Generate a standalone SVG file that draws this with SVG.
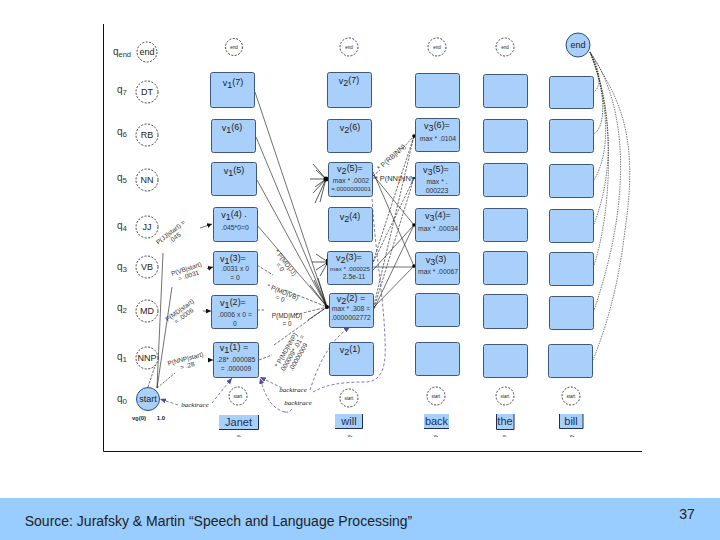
<svg xmlns="http://www.w3.org/2000/svg" width="720" height="540" viewBox="0 0 720 540">
<defs>
<style>
text{font-family:"Liberation Sans",Arial,sans-serif;fill:#222;text-anchor:middle}
.b{fill:#a8d0fb;stroke:#3f5877;stroke-width:1}
.c{fill:#fff;stroke:#111;stroke-width:.8;stroke-dasharray:2 1.5}
.s{fill:#a8d0fb;stroke:#2c4d78;stroke-width:1}
.w{fill:#a8d0fb;stroke:none}
.wl{stroke:#1c3050;stroke-width:1;fill:none}
.q{font-size:10px;fill:#333}
.n{font-size:9px}
.t{font-size:4.5px}
.v{font-size:9px;fill:#222}
.m{font-size:6.800px;fill:#333}
.l{font-size:6.500px;fill:#333}
.word{font-size:11px;fill:#1c3050}
.sm{font-size:4px}
.bt{font-size:7px;font-family:"Liberation Serif",serif;font-style:italic}
.k{fill:none;stroke:#111;stroke-width:.6}
.d{fill:none;stroke:#111;stroke-width:.6;stroke-dasharray:2.500 1.200}
.r{fill:none;stroke:#111;stroke-width:.6;stroke-dasharray:3 1.500}
.h{fill:none;stroke:#111;stroke-width:.7}
.e{fill:none;stroke:#222;stroke-width:.6;stroke-dasharray:1.500 1}
.p{fill:none;stroke:#5a5aa8;stroke-width:.8;stroke-dasharray:3 2}
</style>
<marker id="a" markerWidth="6" markerHeight="6" refX="5" refY="2.500" orient="auto" markerUnits="userSpaceOnUse"><path d="M0 0L5 2.500L0 5z" fill="#111"/></marker>
<marker id="pa" markerWidth="7" markerHeight="6" refX="6" refY="2.500" orient="auto" markerUnits="userSpaceOnUse"><path d="M0 0L6 2.500L0 5z" fill="#4a4aa8"/></marker>
</defs>
<rect width="720" height="540" fill="#fff"/>
<rect y="498" width="720" height="42" fill="#99ccff"/>
<path d="M103.500 24V451.500H642" fill="none" stroke="#111" stroke-width="1"/>
<text x="218.500" y="526" font-size="14" fill="#15203c">Source: Jurafsky &amp; Martin “Speech and Language Processing”</text>
<text x="687" y="519" font-size="14" fill="#15203c">37</text>

<g id="connectors">
<path class="k" d="M255 92L327 307M256 137L327 307M257 180L327 307M257 225L327 307"/>
<path class="r" d="M257 265L273 275M285 290L327 307M259 360L272 355M274 345L327 307M257 310H264M295 315L327 307"/>
<path class="k" d="M308 320L327 307"/>
<path class="h" d="M313 164L326 179M316 170L326 179M310 179H326M315 187L326 179M313 193L326 179M315 203L326 179M320 202L326 179"/>
<path class="h" d="M312 262H328M316 254L328 262M316 270L328 262M320 276L328 262"/>
<path class="h" d="M310 285L327 307M314 280L327 307M318 278L327 307"/>
<path class="d" d="M373 176L380 170M403 148L414 136M373 262L414 136M374 305L414 136M372 265L414 178M374 308L414 178"/>
<path class="k" d="M373 175L414 225M373 172L414 266M373 270L414 225M374 307L414 266M374 309L414 225"/>
<path class="d" d="M373 178H376M411 178H414"/>
<path class="k" d="M372 267H414"/>
<path class="k" marker-end="url(#a)" d="M200 228L212 224"/>
<path class="k" marker-end="url(#a)" d="M207 268.500L213 267"/>
<path class="k" marker-end="url(#a)" d="M203 311H211"/>
<path class="k" marker-end="url(#a)" d="M208 360H213"/>
<path class="k" d="M157 388L163 253M157 388L172 287"/>
<path class="d" d="M148 387L158 357M157 388L175 373"/>
<path class="e" d="M590 52C603 75 600 90 593 92M590 52C608 95 605 130 593 134M590 52C608 100 612 150 594 180M590 52C612 105 615 170 594 224M590 52C616 110 612 210 594 265M590 52C628 105 632 200 594 310M590 52C617 97 640 130 625 230C618 290 605 330 593 360"/>
<path class="p" marker-end="url(#pa)" d="M178 405L160 399"/>
<path class="p" marker-end="url(#pa)" d="M212 403L232 378"/>
<path class="p" marker-end="url(#pa)" d="M282 388L260 377"/>
<path class="p" marker-end="url(#pa)" d="M285 412C270 408 265 395 260 378"/>
<path class="p" d="M313 392C325 385 340 382 365 382C385 382 386 360 385 340C384 300 375 250 372 197"/>
<path class="p" marker-end="url(#pa)" d="M310 390C318 365 330 340 350 327"/>
<path class="p" d="M285 412C292 413 290 409 293 408"/>
<circle cx="326" cy="179" r="2.500" fill="#000"/><rect x="326" y="259" width="3" height="6" fill="#000"/><circle cx="327" cy="307" r="2" fill="#000"/><circle cx="414" cy="136" r="1.800" fill="#000"/><circle cx="414" cy="178" r="1" fill="#000"/><circle cx="414" cy="225" r="1.800" fill="#000"/><circle cx="414" cy="266" r="1.800" fill="#000"/>
</g>

<g id="labels">
<text class="q" x="122" y="55">q<tspan font-size="7.500" dy="2">end</tspan></text>
<text class="q" x="122" y="93">q<tspan font-size="8" dy="2">7</tspan></text>
<text class="q" x="122" y="135">q<tspan font-size="8" dy="2">6</tspan></text>
<text class="q" x="122" y="181">q<tspan font-size="8" dy="2">5</tspan></text>
<text class="q" x="122" y="229">q<tspan font-size="8" dy="2">4</tspan></text>
<text class="q" x="122" y="270">q<tspan font-size="8" dy="2">3</tspan></text>
<text class="q" x="122" y="311">q<tspan font-size="8" dy="2">2</tspan></text>
<text class="q" x="122" y="360">q<tspan font-size="8" dy="2">1</tspan></text>
<text class="q" x="122" y="402">q<tspan font-size="8" dy="2">0</tspan></text>
<text x="139" y="420" font-size="6" font-weight="bold" fill="#333">v<tspan dy="1">0</tspan><tspan dy="-1">(0)</tspan></text>
<text x="161" y="420" font-size="6" font-weight="bold" fill="#333">1.0</text>
<text class="l" transform="translate(172 234) rotate(-38)">P(JJ|start) =<tspan x="0" dy="7">.045</tspan></text>
<text class="l" transform="translate(187 271) rotate(-18)">P(VB|start)<tspan x="0" dy="7">= .0031</tspan></text>
<text class="l" transform="translate(181 312) rotate(-36)">P(MD|start)<tspan x="0" dy="7">= .0006</tspan></text>
<text class="l" transform="translate(186 361) rotate(-15)">P(NNP|start)<tspan x="0" dy="7">= .28</tspan></text>
<text class="bt" x="195" y="407">backtrace</text>
<text class="l" transform="translate(284 264) rotate(52)">* P(MD|JJ)<tspan x="0" dy="7">= 0</tspan></text>
<text class="l" transform="translate(282 294) rotate(22)">* P(MD|VB)<tspan x="0" dy="7">= 0</tspan></text>
<text class="l" x="287" y="318">P(MD|MD)<tspan x="287" dy="8">= 0</tspan></text>
<text class="l" transform="translate(288 351) rotate(-60)">* P(MD|NNP)<tspan x="0" dy="7">.000009* .01 =</tspan><tspan x="0" dy="7">.00000009</tspan></text>
<text class="bt" x="293" y="392">backtrace</text>
<text class="bt" x="298" y="405">backtrace</text>
<text class="l" style="font-size:7px" transform="translate(393 159) rotate(-42)">* P(RB|NN)</text>
<text class="l" style="font-size:7.500px" x="394" y="181">* P(NN|NN)</text>
</g>

<g id="end0"><circle class="c" cx="147" cy="52" r="10"/><text class="n" x="147" y="55">end</text></g>
<g id="dt"><circle class="c" cx="147" cy="92" r="11"/><text class="n" x="147" y="95">DT</text></g>
<g id="rb"><circle class="c" cx="147" cy="135" r="11"/><text class="n" x="147" y="138">RB</text></g>
<g id="nn"><circle class="c" cx="147" cy="180" r="11"/><text class="n" x="147" y="183">NN</text></g>
<g id="jj"><circle class="c" cx="147" cy="227" r="11"/><text class="n" x="147" y="230">JJ</text></g>
<g id="vb"><circle class="c" cx="147" cy="267" r="11"/><text class="n" x="147" y="270">VB</text></g>
<g id="md"><circle class="c" cx="147" cy="311" r="11"/><text class="n" x="147" y="314">MD</text></g>
<g id="nnp"><circle class="c" cx="147" cy="358" r="11"/><text class="n" x="147" y="361">NNP</text></g>
<g id="start0"><circle class="s" cx="148" cy="399" r="11.500"/><text class="n" x="148" y="402" fill="#1c3050">start</text></g>

<g id="end1"><circle class="c" cx="234" cy="47" r="8.500"/><text class="t" x="234" y="49">end</text></g>
<g id="end2"><circle class="c" cx="349" cy="47" r="9"/><text class="t" x="349" y="49">end</text></g>
<g id="end3"><circle class="c" cx="437" cy="47" r="9"/><text class="t" x="437" y="49">end</text></g>
<g id="end4"><circle class="c" cx="505" cy="47" r="9"/><text class="t" x="505" y="49">end</text></g>
<g id="end5"><circle class="s" cx="578" cy="45" r="12"/><text x="578" y="48" font-size="9" fill="#1c3050">end</text></g>

<g id="v17"><rect class="b" x="210.500" y="72.500" width="44" height="35" rx="2"/><text class="v" x="233" y="86">v<tspan dy="2">1</tspan><tspan dy="-3">(7)</tspan></text></g>
<g id="v16"><rect class="b" x="211.500" y="119.500" width="44" height="33" rx="2"/><text class="v" x="232" y="131">v<tspan dy="2">1</tspan><tspan dy="-3">(6)</tspan></text></g>
<g id="v15"><rect class="b" x="211.500" y="162.500" width="45" height="33" rx="2"/><text class="v" x="234" y="174">v<tspan dy="2">1</tspan><tspan dy="-3">(5)</tspan></text></g>
<g id="v14"><rect class="b" x="213.500" y="207.500" width="44" height="34" rx="2"/><text class="v" x="234" y="218">v<tspan dy="2">1</tspan><tspan dy="-3">(4) .</tspan></text><text class="m" x="235" y="230">.045*0=0</text></g>
<g id="v13"><rect class="b" x="213.500" y="251.500" width="44" height="33" rx="2"/><text class="v" x="233" y="262">v<tspan dy="2">1</tspan><tspan dy="-3">(3)=</tspan></text><text class="m" x="235" y="271">.0031 x 0</text><text class="m" x="235" y="280">= 0</text></g>
<g id="v12"><rect class="b" x="211.500" y="295.500" width="46" height="33" rx="2" stroke="#1c2c44"/><text class="v" x="233" y="306">v<tspan dy="2">1</tspan><tspan dy="-3">(2)=</tspan></text><text class="m" x="235" y="317">.0006 x 0 =</text><text class="m" x="235" y="326">0</text></g>
<g id="v11"><rect class="b" x="213.500" y="342.500" width="45" height="35" rx="2"/><text class="v" x="234" y="351">v<tspan dy="2">1</tspan><tspan dy="-3">(1) =</tspan></text><text class="m" x="236" y="362">.28* .000085</text><text class="m" x="236" y="371">= .000009</text></g>

<g id="v27"><rect class="b" x="327.500" y="72.500" width="44" height="35" rx="2"/><text class="v" x="349" y="84">v<tspan dy="2">2</tspan><tspan dy="-3">(7)</tspan></text></g>
<g id="v26"><rect class="b" x="327.500" y="119.500" width="44" height="33" rx="2"/><text class="v" x="350" y="131">v<tspan dy="2">2</tspan><tspan dy="-3">(6)</tspan></text></g>
<g id="v25"><rect class="b" x="328.500" y="162.500" width="44" height="34" rx="2"/><text class="v" x="350" y="172">v<tspan dy="2">2</tspan><tspan dy="-3">(5)=</tspan></text><text class="m" x="351" y="183">max * .0002</text><text class="m" x="351" y="191" style="font-size:6.200px">=.0000000001</text></g>
<g id="v24"><rect class="b" x="328.500" y="207.500" width="44" height="34" rx="2" stroke="#1c2c44"/><text class="v" x="350" y="220">v<tspan dy="2">2</tspan><tspan dy="-3">(4)</tspan></text></g>
<g id="v23"><rect class="b" x="327.500" y="251.500" width="45" height="33" rx="2"/><text class="v" x="349" y="261">v<tspan dy="2">2</tspan><tspan dy="-3">(3)=</tspan></text><text class="m" x="350" y="271" style="font-size:6.200px">max * .000025</text><text class="m" x="354" y="279">2.5e-11</text></g>
<g id="v22"><rect class="b" x="329.500" y="293.500" width="44" height="34" rx="2"/><text class="v" x="351" y="302">v<tspan dy="2">2</tspan><tspan dy="-3">(2) =</tspan></text><text class="m" x="351" y="311">max * .308 =</text><text class="m" x="351" y="320">.0000002772</text></g>
<g id="v21"><rect class="b" x="329.500" y="342.500" width="44" height="33" rx="2"/><text class="v" x="350" y="353">v<tspan dy="2">2</tspan><tspan dy="-3">(1)</tspan></text></g>

<g id="v37"><rect class="b" x="415.500" y="73.500" width="44" height="34" rx="2"/></g>
<g id="v36"><rect class="b" x="415.500" y="118.500" width="44" height="33" rx="2"/><text class="v" x="437" y="129">v<tspan dy="2">3</tspan><tspan dy="-3">(6)=</tspan></text><text class="m" x="438" y="141">max * .0104</text></g>
<g id="v35"><rect class="b" x="415.500" y="162.500" width="44" height="33" rx="2"/><text class="v" x="436" y="173">v<tspan dy="2">3</tspan><tspan dy="-3">(5)=</tspan></text><text class="m" x="437" y="184">max * .</text><text class="m" x="437" y="193">000223</text></g>
<g id="v34"><rect class="b" x="415.500" y="208.500" width="44" height="33" rx="2"/><text class="v" x="438" y="219">v<tspan dy="2">3</tspan><tspan dy="-3">(4)=</tspan></text><text class="m" x="438" y="231">max * .00034</text></g>
<g id="v33"><rect class="b" x="415.500" y="252.500" width="44" height="32" rx="2"/><text class="v" x="436" y="263">v<tspan dy="2">3</tspan><tspan dy="-3">(3)</tspan></text><text class="m" x="438" y="274">max * .00067</text></g>
<g id="v32"><rect class="b" x="415.500" y="293.500" width="44" height="33" rx="2"/></g>
<g id="v31"><rect class="b" x="415.500" y="342.500" width="44" height="33" rx="2"/></g>

<g id="v47"><rect class="b" x="483.500" y="74.500" width="44" height="33" rx="2"/></g>
<g id="v46"><rect class="b" x="483.500" y="119.500" width="44" height="33" rx="2"/></g>
<g id="v45"><rect class="b" x="483.500" y="163.500" width="44" height="33" rx="2"/></g>
<g id="v44"><rect class="b" x="483.500" y="208.500" width="44" height="33" rx="2"/></g>
<g id="v43"><rect class="b" x="483.500" y="251.500" width="44" height="33" rx="2"/></g>
<g id="v42"><rect class="b" x="483.500" y="294.500" width="44" height="34" rx="2"/></g>
<g id="v41"><rect class="b" x="483.500" y="344.500" width="44" height="33" rx="2"/></g>

<g id="v57"><rect class="b" x="549.500" y="76.500" width="44" height="32" rx="2"/></g>
<g id="v56"><rect class="b" x="549.500" y="119.500" width="44" height="33" rx="2"/></g>
<g id="v55"><rect class="b" x="549.500" y="164.500" width="44" height="33" rx="2"/></g>
<g id="v54"><rect class="b" x="549.500" y="209.500" width="44" height="33" rx="2"/></g>
<g id="v53"><rect class="b" x="549.500" y="252.500" width="44" height="33" rx="2"/></g>
<g id="v52"><rect class="b" x="549.500" y="296.500" width="44" height="33" rx="2"/></g>
<g id="v51"><rect class="b" x="548.500" y="344.500" width="44" height="33" rx="2" stroke="#8fa9c9"/></g>

<g id="start1"><circle class="c" cx="238" cy="396" r="9"/><text class="t" x="238" y="398">start</text></g>
<g id="start2"><circle class="c" cx="349" cy="398" r="9"/><text class="t" x="349" y="400">start</text></g>
<g id="start3"><circle class="c" cx="436" cy="396" r="9"/><text class="t" x="436" y="398">start</text></g>
<g id="start4"><circle class="c" cx="505" cy="396" r="9"/><text class="t" x="505" y="398">start</text></g>
<g id="start5"><circle class="c" cx="571" cy="396" r="9"/><text class="t" x="571" y="398">start</text></g>

<g id="janet"><rect class="w" x="219" y="415" width="39" height="14"/><path class="wl" d="M219 429.500H258.500V415"/><text class="word" x="238.500" y="426">Janet</text><text class="sm" x="239" y="437">w₁</text></g>
<g id="will"><rect class="w" x="335" y="414" width="27" height="14"/><path class="wl" d="M335 428.500H362.500V414"/><text class="word" x="349" y="425">will</text><text class="sm" x="350" y="437">w₂</text></g>
<g id="back"><rect class="w" x="424" y="414" width="25" height="14"/><path class="wl" d="M424 428.500H449"/><text class="word" x="436.500" y="425">back</text><text class="sm" x="436" y="437">w₃</text></g>
<g id="the"><rect class="w" x="496" y="414" width="18" height="15"/><path class="wl" d="M496.500 414V429.500H514V414"/><text class="word" x="505" y="425">the</text><text class="sm" x="505" y="437">w₄</text></g>
<g id="bill"><rect class="w" x="559" y="414" width="24" height="14"/><path class="wl" d="M559.500 414V428.500H583V414"/><text class="word" x="571" y="425">bill</text><text class="sm" x="572" y="437">w₅</text></g>
</svg>
